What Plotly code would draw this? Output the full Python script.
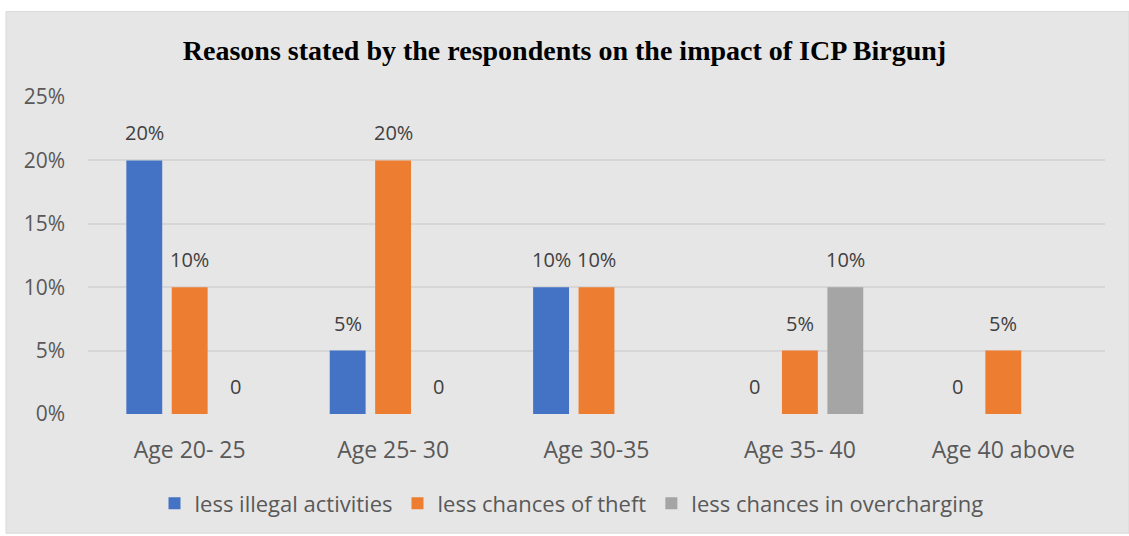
import plotly.graph_objects as go

categories = ["Age 20- 25", "Age 25- 30", "Age 30-35", "Age 35- 40", "Age 40 above"]
illegal = [20, 5, 10, 0, 0]
theft = [10, 20, 10, 5, 5]
overcharging = [0, 0, None, 10, None]
series_names = ["less illegal activities", "less chances of theft", "less chances in overcharging"]
colors = ["#4472C4", "#ED7D31", "#A5A5A5"]
y_ticks = [0, 5, 10, 15, 20, 25]

W, H = 1129, 536
L, R, T, B = 88, 24, 97, 120
pw, ph = W - L - R, H - T - B

fig = go.Figure()
all_series = [illegal, theft, overcharging]
for name, vals, col in zip(series_names, all_series, colors):
    fig.add_trace(go.Bar(
        x=categories, y=[v if v is not None else 0 for v in vals], name=name,
        marker=dict(color=col, line=dict(width=0)), hoverinfo="skip"))

slot = pw / len(categories) * (1 - 0.33) / 3
annotations = []
for i, vals in enumerate(all_series):
    for c, v in zip(categories, vals):
        if v is None:
            continue
        annotations.append(dict(
            x=c, y=v, xref="x", yref="y", text=(f"{v}%" if v else "0"),
            showarrow=False, yanchor="bottom", yshift=12, xshift=(i - 1) * slot,
            font=dict(family="Open Sans", size=20, color="#404040")))

shapes = [dict(type="rect", xref="paper", yref="paper", layer="below",
               x0=(6 - L) / pw, x1=(W - L) / pw,
               y0=(H - B - H) / ph, y1=(H - B - 11) / ph,
               fillcolor="#E6E6E6", line=dict(color="#D9D9D9", width=1))]

fig.update_layout(
    width=W, height=H, margin=dict(l=L, r=R, t=T, b=B),
    paper_bgcolor="white", plot_bgcolor="rgba(0,0,0,0)",
    barmode="group", bargap=0.33, bargroupgap=0.21,
    title=dict(text="<b>Reasons stated by the respondents on the impact of ICP Birgunj</b>",
               x=0.5, xref="container", xanchor="center",
               y=1 - 50 / H, yref="container", yanchor="middle",
               font=dict(family="Liberation Serif", size=28, color="black")),
    xaxis=dict(showgrid=False, showline=False, zeroline=False, ticks="",
               ticklabelstandoff=20,
               tickfont=dict(family="Open Sans", size=23, color="#595959")),
    yaxis=dict(range=[0, 25], tickvals=y_ticks, ticktext=[f"{t}%" for t in y_ticks],
               showgrid=True, gridcolor="#D6D6D6", gridwidth=1.5, zeroline=False,
               showline=False, ticks="", ticklabelstandoff=22,
               tickfont=dict(family="Open Sans", size=21, color="#595959")),
    legend=dict(orientation="h", x=0.5 - 25 / pw, xanchor="center", y=(H - B - 506) / ph,
                yanchor="middle", font=dict(family="Open Sans", size=22, color="#595959"),
                bgcolor="rgba(0,0,0,0)"),
    annotations=annotations, shapes=shapes,
)
fig.write_html("out.html")
